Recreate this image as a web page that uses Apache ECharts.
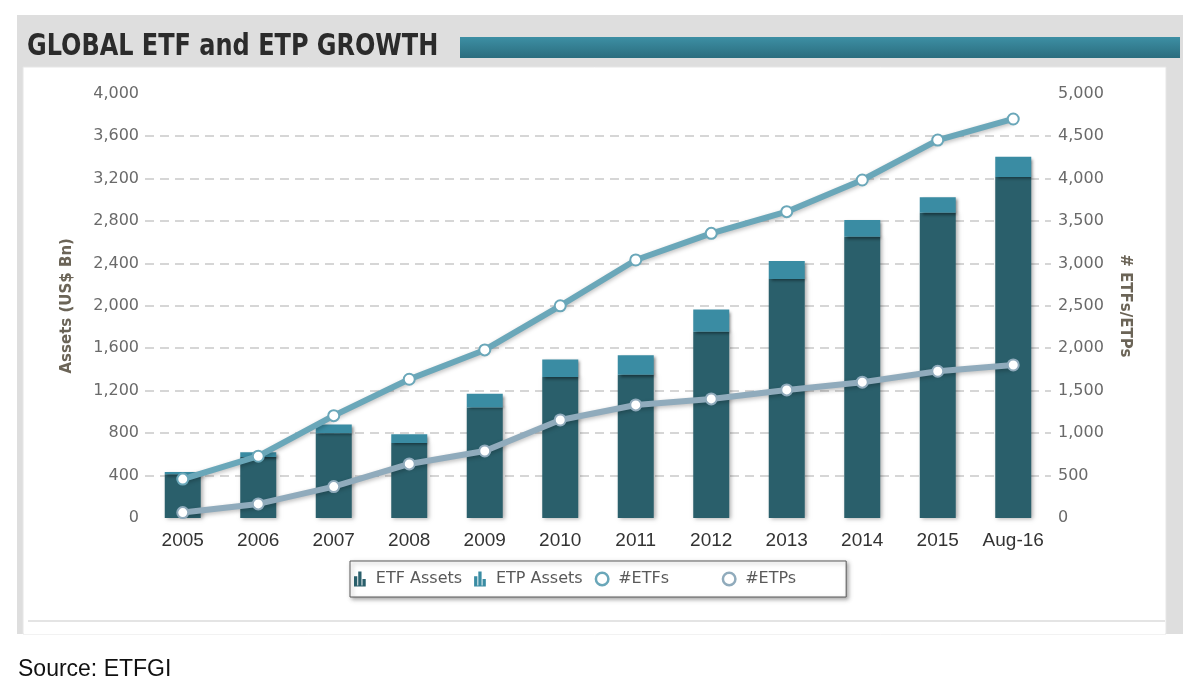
<!DOCTYPE html>
<html>
<head>
<meta charset="utf-8">
<title>Global ETF and ETP growth</title>
<script src="https://cdn.jsdelivr.net/npm/echarts@6/dist/echarts.min.js"></script>
<style>
    html, body { margin: 0; padding: 0; background: #fff; }
    .chart { width: 1200px; height: 697px; }
</style>
</head>
<body>
<div class="chart"></div>
<script>
// 数据
var years = ['2005', '2006', '2007', '2008', '2009', '2010', '2011', '2012', '2013', '2014', '2015', 'Aug-16'];
var etfAssets = [412, 575, 798, 706, 1042, 1330, 1350, 1755, 2252, 2650, 2876, 3215];
var etpAssets = [22, 45, 84, 84, 130, 165, 185, 210, 170, 158, 148, 190];
var etfCount = [458, 728, 1206, 1635, 1980, 2500, 3040, 3354, 3609, 3982, 4453, 4701];
var etpCount = [64, 166, 370, 637, 790, 1155, 1332, 1403, 1509, 1600, 1729, 1803];
var leftTicks = { min: 0, max: 4000, interval: 400 };
var rightTicks = { min: 0, max: 5000, interval: 500 };

var darkBar = '#2a5f6b';
var lightBar = '#3a8ca3';
var upperLine = '#6aa7b9';
var lowerLine = '#90abbc';

// 图例图标
var barIcon = 'path://M0,15V5h3.5v10zM4.5,15V0h3.5v15zM9,15V8h3.5v7zM0,15h12.5v1H0z';
var ringIcon = 'path://M6,0A6,6,0,1,1,6,12A6,6,0,1,1,6,0ZM6,2A4,4,0,1,0,6,10A4,4,0,1,0,6,2Z';

function commas(v) {
    return String(v).replace(/\B(?=(\d{3})+(?!\d))/g, ',');
}

var myChart = echarts.init(document.querySelector('.chart'));
var option = {
    animation: false,
    backgroundColor: '#fff',
    graphic: [
        // 外框
        { type: 'rect', z: -10, shape: { x: 17, y: 15, width: 1166, height: 619 }, style: { fill: '#dedede' } },
        { type: 'rect', z: -9, shape: { x: 23, y: 67, width: 1143, height: 567 }, style: { fill: '#fff', stroke: '#e6e6e6', lineWidth: 1 } },
        { type: 'rect', z: -8, shape: { x: 24, y: 620, width: 1141, height: 14 }, style: { fill: '#fff' } },
        { type: 'line', z: -7, shape: { x1: 28, y1: 621, x2: 1165, y2: 621 }, style: { stroke: '#e4e4e4', lineWidth: 2 } },
        // 标题条
        {
            type: 'rect', z: -7, shape: { x: 460, y: 37, width: 720, height: 21 },
            style: {
                fill: new echarts.graphic.LinearGradient(0, 0, 0, 1, [
                    { offset: 0, color: '#3d8fa4' },
                    { offset: 1, color: '#2b6d7e' }
                ])
            }
        },
        {
            type: 'text', left: 27, top: 31, z: 5,
            scaleX: 0.86,
            style: {
                text: 'GLOBAL ETF and ETP GROWTH',
                font: 'bold 31px "DejaVu Sans Condensed", "DejaVu Sans", sans-serif',
                fill: '#2b2b2b'
            }
        },
        {
            type: 'text', left: 18, top: 658, z: 5,
            style: {
                text: 'Source: ETFGI',
                font: '23px "Liberation Sans", Arial, sans-serif',
                fill: '#111'
            }
        }
    ],
    grid: {
        left: 145,
        right: 149,
        top: 93.6,
        bottom: 179,
    },
    legend: {
        left: 350,
        top: 561,
        padding: [10, 50, 10, 4],
        itemWidth: 22,
        itemHeight: 15,
        itemGap: 12,
        borderColor: '#5a5a5a',
        borderWidth: 1,
        backgroundColor: '#fff',
        shadowColor: 'rgba(0,0,0,0.35)',
        shadowBlur: 4,
        shadowOffsetX: 2,
        shadowOffsetY: 2,
        textStyle: {
            color: '#5a5a5a',
            fontSize: 16,
            fontFamily: '"DejaVu Sans", Verdana, sans-serif'
        },
        formatter: function (name) {
            if (name == '#ETFs') return name + '\u00a0\u00a0\u00a0\u00a0\u00a0\u00a0\u00a0\u00a0';
            return name;
        },
        data: [
            { name: 'ETF Assets', icon: barIcon, itemStyle: { color: darkBar } },
            { name: 'ETP Assets', icon: barIcon, itemStyle: { color: lightBar } },
            { name: '#ETFs', icon: ringIcon, itemStyle: { color: upperLine, borderWidth: 0 } },
            { name: '#ETPs', icon: ringIcon, itemStyle: { color: lowerLine, borderWidth: 0 } }
        ]
    },
    xAxis: {
        type: 'category',
        data: years,
        axisTick: { show: false },
        axisLine: { show: false },
        axisLabel: {
            interval: 0,
            color: '#333',
            fontSize: 19,
            margin: 13,
            fontFamily: '"Liberation Sans", Arial, sans-serif'
        }
    },
    yAxis: [{
        type: 'value',
        min: leftTicks.min,
        max: leftTicks.max,
        interval: leftTicks.interval,
        name: 'Assets (US$ Bn)',
        nameLocation: 'middle',
        nameRotate: 90,
        nameGap: 70,
        nameTextStyle: {
            color: '#6b6457',
            fontSize: 15,
            fontWeight: 'bold',
            fontFamily: '"DejaVu Sans", Verdana, sans-serif'
        },
        axisLine: { show: false },
        axisTick: { show: false },
        axisLabel: {
            color: '#6a6a6a',
            fontSize: 16,
            margin: 6,
            fontFamily: '"DejaVu Sans", Verdana, sans-serif',
            formatter: commas
        },
        splitLine: {
            showMinLine: false,
            showMaxLine: false,
            lineStyle: { color: '#c9c9c9', width: 1.5, type: [9, 6] }
        }
    }, {
        type: 'value',
        min: rightTicks.min,
        max: rightTicks.max,
        interval: rightTicks.interval,
        name: '# ETFs/ETPs',
        nameLocation: 'middle',
        nameRotate: -90,
        nameGap: 66,
        nameTextStyle: {
            color: '#6b6457',
            fontSize: 15,
            fontWeight: 'bold',
            fontFamily: '"DejaVu Sans", Verdana, sans-serif'
        },
        axisLine: { show: false },
        axisTick: { show: false },
        axisLabel: {
            color: '#6a6a6a',
            fontSize: 16,
            margin: 7,
            fontFamily: '"DejaVu Sans", Verdana, sans-serif',
            formatter: commas
        },
        splitLine: { show: false }
    }],
    series: [{
        name: 'ETF Assets',
        type: 'bar',
        stack: 'assets',
        barWidth: 36,
        itemStyle: {
            color: darkBar,
            shadowColor: 'rgba(0,0,0,0.3)',
            shadowBlur: 4,
            shadowOffsetX: 2,
            shadowOffsetY: 1
        },
        data: etfAssets
    }, {
        name: 'ETP Assets',
        type: 'bar',
        stack: 'assets',
        barWidth: 36,
        itemStyle: {
            color: lightBar,
            shadowColor: 'rgba(0,0,0,0.45)',
            shadowBlur: 3,
            shadowOffsetX: 2,
            shadowOffsetY: 2
        },
        data: etpAssets
    }, {
        name: '#ETFs',
        type: 'line',
        yAxisIndex: 1,
        symbol: 'circle',
        symbolSize: 11,
        z: 5,
        lineStyle: {
            color: upperLine,
            width: 6,
            shadowColor: 'rgba(0,0,0,0.25)',
            shadowBlur: 4,
            shadowOffsetY: 2
        },
        itemStyle: { color: '#fff', borderColor: upperLine, borderWidth: 2 },
        data: etfCount
    }, {
        name: '#ETPs',
        type: 'line',
        yAxisIndex: 1,
        symbol: 'circle',
        symbolSize: 11,
        z: 5,
        lineStyle: {
            color: lowerLine,
            width: 6,
            shadowColor: 'rgba(0,0,0,0.25)',
            shadowBlur: 4,
            shadowOffsetY: 2
        },
        itemStyle: { color: '#fff', borderColor: lowerLine, borderWidth: 2 },
        data: etpCount
    }]
};

// 使用刚指定的配置项和数据显示图表。
myChart.setOption(option);
</script>
</body>
</html>
